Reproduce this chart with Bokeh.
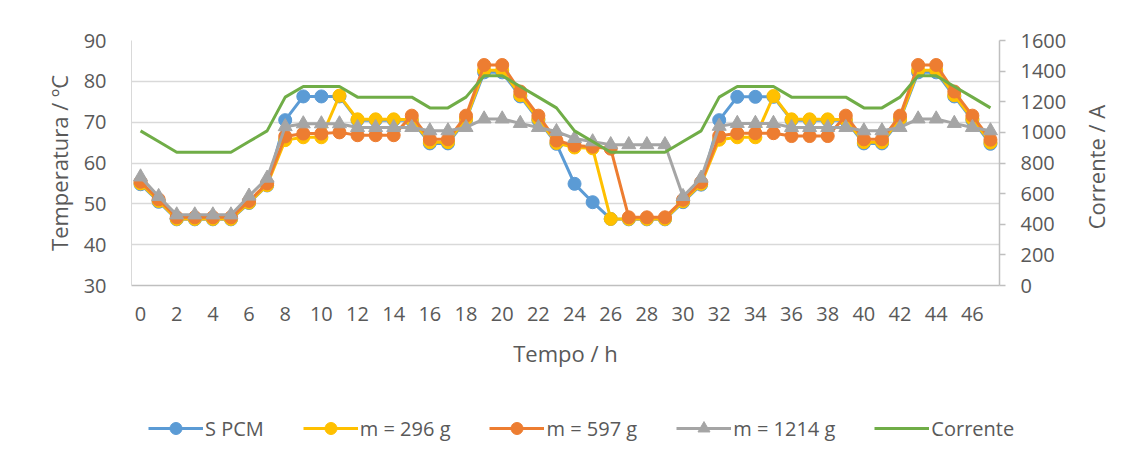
from bokeh.plotting import figure
from bokeh.models import (Range1d, LinearAxis, FixedTicker, Legend, LegendItem, Div, Row, Column)
from bokeh.embed import file_html
from bokeh.resources import INLINE

hours = list(range(48))

s_pcm = [54.8, 50.5, 46.2, 46.2, 46.2, 46.2, 50.2, 54.5, 70.5, 76.3, 76.3, 76.3,
         70.5, 70.5, 70.5, 70.4, 64.8, 64.8, 70.6, 82.2, 82.2, 76.3, 70.5, 64.7,
         54.9, 50.4, 46.3, 46.2, 46.2, 46.2, 50.4, 54.7, 70.5, 76.2, 76.2, 76.2,
         70.5, 70.5, 70.5, 70.4, 64.8, 64.8, 70.6, 82.2, 82.2, 76.3, 70.5, 64.7]

m296 = [55.0, 50.7, 46.3, 46.3, 46.3, 46.3, 50.3, 54.6, 65.6, 66.3, 66.3, 76.5,
        70.7, 70.7, 70.7, 70.6, 65.1, 65.1, 70.8, 82.7, 82.7, 76.6, 70.8, 64.9,
        63.8, 63.6, 46.3, 46.3, 46.3, 46.3, 50.6, 54.9, 65.7, 66.3, 66.3, 76.4,
        70.7, 70.7, 70.7, 70.6, 65.1, 65.1, 70.8, 82.7, 82.7, 76.6, 70.8, 65.0]

m597 = [55.4, 51.1, 46.7, 46.7, 46.7, 46.7, 50.7, 55.0, 66.5, 67.2, 67.2, 67.5,
        66.8, 66.8, 66.8, 71.6, 65.8, 65.8, 71.6, 84.0, 84.0, 77.5, 71.6, 65.5,
        64.3, 64.0, 63.5, 46.7, 46.7, 46.7, 51.0, 55.3, 66.6, 67.3, 67.3, 67.3,
        66.6, 66.6, 66.6, 71.6, 65.8, 65.8, 71.6, 84.0, 84.0, 77.5, 71.6, 65.7]

m1214 = [56.6, 51.8, 47.3, 47.3, 47.3, 47.3, 51.9, 56.3, 68.9, 69.6, 69.6, 69.6,
         68.7, 68.7, 68.7, 68.7, 67.9, 67.9, 68.7, 70.8, 70.8, 69.7, 68.7, 67.7,
         66.0, 65.2, 64.5, 64.5, 64.5, 64.5, 51.8, 56.3, 69.0, 69.7, 69.7, 69.7,
         68.7, 68.7, 68.7, 68.7, 67.9, 67.9, 68.7, 70.8, 70.8, 69.7, 68.7, 67.9]

corrente = [1010, 940, 870, 870, 870, 870, 940, 1010, 1230, 1300, 1300, 1300,
            1230, 1230, 1230, 1230, 1160, 1160, 1230, 1370, 1370, 1300, 1230, 1160,
            1010, 940, 870, 870, 870, 870, 940, 1010, 1230, 1300, 1300, 1300,
            1230, 1230, 1230, 1230, 1160, 1160, 1230, 1370, 1370, 1300, 1230, 1160]

x_ticks = list(range(0, 47, 2))
temp_ticks = [30, 40, 50, 60, 70, 80, 90]
curr_ticks = [0, 200, 400, 600, 800, 1000, 1200, 1400, 1600]

labels = ["S PCM", "m = 296 g", "m = 597 g", "m = 1214 g", "Corrente"]
colors = ["#5B9BD5", "#FFC000", "#ED7D31", "#A5A5A5", "#70AD47"]
markers = ["circle", "circle", "circle", "triangle"]
right_title = "Corrente / A"

FONT = "Open Sans"
TXT = "#595959"

p = figure(width=1080, height=395, output_backend="svg", toolbar_location=None,
           x_range=Range1d(-0.5, 47.5), y_range=Range1d(30, 90),
           min_border_left=131, min_border_right=81, min_border_top=40,
           min_border_bottom=110, frame_width=868, frame_height=245)
p.extra_y_ranges = {"amp": Range1d(0, 1600)}
p.outline_line_color = None
p.background_fill_color = "white"
p.border_fill_color = "white"

# axes
p.xaxis.ticker = FixedTicker(ticks=x_ticks)
p.yaxis.ticker = FixedTicker(ticks=temp_ticks)
for ax in p.xaxis + p.yaxis:
    ax.major_label_text_font = FONT
    ax.major_label_text_font_size = "20px"
    ax.major_label_text_color = TXT
    ax.axis_label_text_font = FONT
    ax.axis_label_text_font_size = "22px"
    ax.axis_label_text_color = TXT
    ax.axis_label_text_font_style = "normal"
    ax.major_tick_line_color = None
    ax.minor_tick_line_color = None

p.xaxis.axis_label = "Tempo / h"
p.xaxis.axis_line_color = "#BFBFBF"
p.xaxis.axis_line_width = 1.5
p.xaxis.major_label_standoff = 15
p.xaxis.axis_label_standoff = 14

p.yaxis.axis_label = "Temperatura / ºC"
p.yaxis.axis_line_color = "#D9D9D9"
p.yaxis.major_label_standoff = 19
p.yaxis.axis_label_standoff = 7

ax2 = LinearAxis(y_range_name="amp", ticker=FixedTicker(ticks=curr_ticks))
ax2.major_label_text_font = FONT
ax2.major_label_text_font_size = "20px"
ax2.major_label_text_color = TXT
ax2.axis_line_color = "#BFBFBF"
ax2.axis_line_width = 1.5
ax2.major_tick_line_color = "#BFBFBF"
ax2.major_tick_line_width = 1.5
ax2.major_tick_in = 0
ax2.major_tick_out = 6
ax2.minor_tick_line_color = None
ax2.major_label_standoff = 15
p.add_layout(ax2, "right")

p.xgrid.grid_line_color = None
p.ygrid.grid_line_color = "#D9D9D9"
p.ygrid.grid_line_width = 1.3

series = [s_pcm, m296, m597, m1214]
for vals, col, mk in zip(series, colors[:4], markers):
    p.line(hours, vals, line_color=col, line_width=3)
    p.scatter(hours, vals, marker=mk, size=13 if mk == "circle" else 14,
              fill_color=col, line_color=col)
p.line(hours, corrente, line_color=colors[4], line_width=3, y_range_name="amp")

# right axis title (reads bottom-to-top, as in the reference)
div = Div(width=49, height=395,
          text=('<div style="position:relative;width:49px;height:395px;">'
                '<div style="position:absolute;left:-4px;top:162px;'
                'transform:translateY(-50%) rotate(180deg);writing-mode:vertical-rl;'
                'font-family:\'Open Sans\';font-size:22px;line-height:30px;'
                'color:#595959;white-space:nowrap;">' + right_title + '</div></div>'))

# legend strip below the chart (proxy renderers sit outside the visible range)
p2 = figure(width=1129, height=62, output_backend="svg", toolbar_location=None,
            x_axis_type=None, y_axis_type=None, min_border=0,
            x_range=Range1d(0, 1), y_range=Range1d(0, 1))
p2.outline_line_color = None
p2.xgrid.grid_line_color = None
p2.ygrid.grid_line_color = None
p2.border_fill_color = "white"

items = []
for col, lab, mk in zip(colors[:4], labels[:4], markers):
    lr = p2.line([-10, -9], [-10, -10], line_color=col, line_width=3)
    sr = p2.scatter([-10], [-10], marker=mk, size=13 if mk == "circle" else 14,
                    fill_color=col, line_color=col)
    items.append(LegendItem(label=lab, renderers=[lr, sr]))
gl = p2.line([-10, -9], [-10, -10], line_color=colors[4], line_width=3)
items.append(LegendItem(label=labels[4], renderers=[gl]))

leg = Legend(items=items, orientation="horizontal", location=(148, 24),
             glyph_width=55, glyph_height=30, label_standoff=2, spacing=39,
             padding=0, margin=0, border_line_alpha=0, background_fill_alpha=0,
             label_text_font=FONT, label_text_font_size="20px",
             label_text_color=TXT)
p2.add_layout(leg, "center")

layout = Column(Row(p, div), p2)
open("out.html", "w").write(file_html(layout, INLINE))
